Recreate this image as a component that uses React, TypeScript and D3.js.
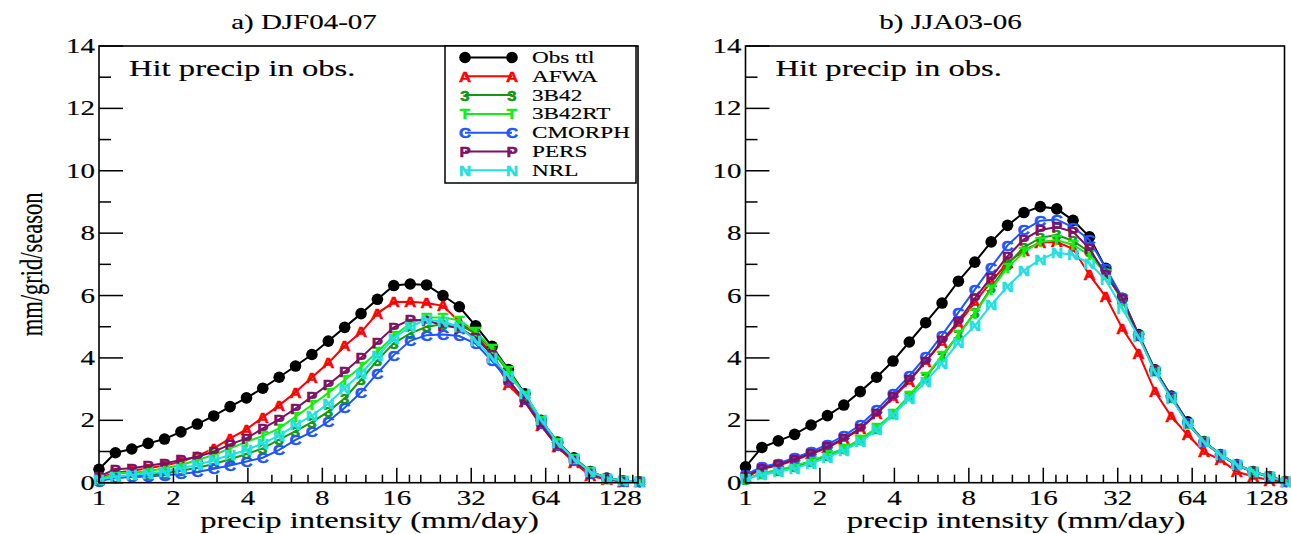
import React from "react";
import * as d3 from "d3";

// ---- data ----
const BINS = [1, 1.165, 1.357, 1.58, 1.841, 2.144, 2.498, 2.91, 3.389, 3.948, 4.595, 5.352, 6.233, 7.26, 8.456, 9.849, 11.47, 13.36, 15.56, 18.13, 21.11, 24.59, 28.64, 33.36, 38.85, 45.25, 52.71, 61.39, 71.51, 83.29, 97.01, 112.99, 131.6, 153.3];

const X_MAJOR = [1, 2, 4, 8, 16, 32, 64, 128];
const X_MINOR = [3, 5, 6, 7, 9, 10, 12, 14, 18, 20, 24, 28, 36, 40, 48, 56, 72, 80, 96, 112, 144];
const Y_MAJOR = [0, 2, 4, 6, 8, 10, 12, 14];
const Y_MINOR = [1, 3, 5, 7, 9, 11, 13];

const SERIES_NAMES = ["Obs ttl", "AFWA", "3B42", "3B42RT", "CMORPH", "PERS", "NRL"];
const SERIES_MARKERS = ["●", "A", "3", "T", "C", "P", "N"];
const SERIES_COLORS = ["#000000", "#ff0000", "#119911", "#11ee11", "#1f55ff", "#800f66", "#22e0e0"];

// a) DJF04-07
const DJF_OBS = [0.43, 0.96, 1.08, 1.26, 1.40, 1.63, 1.88, 2.14, 2.44, 2.72, 3.03, 3.38, 3.74, 4.11, 4.54, 4.98, 5.42, 5.88, 6.32, 6.37, 6.34, 6.0, 5.64, 5.03, 4.37, 3.63, 2.85, 2.0, 1.3, 0.8, 0.36, 0.15, 0.06, 0.03];
const DJF_AFWA = [0.15, 0.32, 0.38, 0.46, 0.55, 0.67, 0.85, 1.10, 1.42, 1.71, 2.10, 2.48, 2.90, 3.38, 3.84, 4.38, 4.83, 5.43, 5.79, 5.80, 5.76, 5.67, 5.16, 4.75, 4.1, 3.13, 2.6, 1.82, 1.15, 0.65, 0.22, 0.1, 0.04, 0.02];
const DJF_3B42 = [0.08, 0.17, 0.2, 0.25, 0.3, 0.38, 0.48, 0.6, 0.75, 0.92, 1.1, 1.38, 1.65, 1.94, 2.28, 2.71, 3.3, 3.93, 4.47, 4.79, 5.0, 5.08, 5.05, 4.8, 4.25, 3.55, 2.8, 2.0, 1.3, 0.78, 0.35, 0.14, 0.06, 0.03];
const DJF_3B42RT = [0.1, 0.30, 0.32, 0.37, 0.46, 0.57, 0.73, 0.89, 1.10, 1.31, 1.50, 1.74, 2.12, 2.49, 2.88, 3.29, 3.72, 4.20, 4.70, 5.11, 5.3, 5.3, 5.2, 4.85, 4.3, 3.6, 2.8, 2.0, 1.3, 0.78, 0.35, 0.14, 0.06, 0.03];
const DJF_CMORPH = [0.05, 0.15, 0.18, 0.2, 0.24, 0.28, 0.34, 0.45, 0.55, 0.68, 0.8, 1.05, 1.37, 1.63, 1.96, 2.40, 2.90, 3.51, 4.09, 4.55, 4.73, 4.75, 4.7, 4.45, 3.9, 3.27, 2.65, 1.9, 1.2, 0.72, 0.3, 0.12, 0.05, 0.02];
const DJF_PERS = [0.2, 0.43, 0.46, 0.54, 0.62, 0.73, 0.83, 0.99, 1.23, 1.42, 1.74, 2.03, 2.38, 2.76, 3.15, 3.56, 4.01, 4.50, 4.98, 5.22, 5.2, 5.05, 4.95, 4.65, 4.1, 3.3, 2.6, 1.85, 1.15, 0.7, 0.3, 0.12, 0.05, 0.02];
const DJF_NRL = [0.1, 0.19, 0.25, 0.30, 0.35, 0.46, 0.57, 0.73, 0.89, 1.05, 1.26, 1.51, 1.85, 2.15, 2.54, 3.03, 3.51, 4.06, 4.63, 5.0, 5.24, 5.15, 5.0, 4.55, 4.0, 3.42, 2.87, 2.01, 1.28, 0.76, 0.35, 0.14, 0.06, 0.03];

// b) JJA03-06
const JJA_OBS = [0.51, 1.13, 1.34, 1.55, 1.85, 2.15, 2.49, 2.92, 3.38, 3.90, 4.51, 5.13, 5.76, 6.46, 7.07, 7.72, 8.25, 8.66, 8.85, 8.78, 8.41, 7.88, 6.87, 5.91, 4.75, 3.62, 2.78, 1.95, 1.32, 0.9, 0.58, 0.36, 0.2, 0.04];
const JJA_AFWA = [0.15, 0.45, 0.55, 0.72, 0.92, 1.12, 1.40, 1.72, 2.2, 2.72, 3.25, 3.88, 4.5, 5.1, 5.78, 6.45, 7.05, 7.45, 7.7, 7.72, 7.5, 6.66, 5.96, 4.95, 4.15, 2.92, 2.12, 1.53, 0.99, 0.73, 0.35, 0.2, 0.08, 0.03];
const JJA_3B42 = [0.1, 0.3, 0.4, 0.52, 0.68, 0.87, 1.08, 1.37, 1.74, 2.2, 2.78, 3.38, 4.05, 4.75, 5.45, 6.25, 7.0, 7.55, 7.85, 7.95, 7.75, 7.4, 6.75, 5.85, 4.7, 3.58, 2.74, 1.9, 1.31, 0.89, 0.57, 0.35, 0.19, 0.04];
const JJA_3B42RT = [0.12, 0.3, 0.41, 0.54, 0.70, 0.89, 1.10, 1.39, 1.76, 2.22, 2.8, 3.4, 4.08, 4.75, 5.43, 6.2, 6.9, 7.4, 7.72, 7.78, 7.62, 7.3, 6.7, 5.85, 4.7, 3.6, 2.75, 1.9, 1.31, 0.89, 0.57, 0.35, 0.19, 0.04];
const JJA_CMORPH = [0.25, 0.51, 0.62, 0.80, 0.99, 1.23, 1.50, 1.85, 2.33, 2.87, 3.42, 4.04, 4.73, 5.46, 6.19, 6.91, 7.61, 8.10, 8.40, 8.44, 8.19, 7.78, 6.87, 5.95, 4.73, 3.6, 2.76, 1.92, 1.32, 0.89, 0.57, 0.35, 0.19, 0.04];
const JJA_PERS = [0.2, 0.46, 0.57, 0.75, 0.94, 1.15, 1.42, 1.74, 2.22, 2.76, 3.29, 3.88, 4.55, 5.18, 5.91, 6.58, 7.26, 7.8, 8.1, 8.2, 8.04, 7.51, 6.66, 5.91, 4.72, 3.58, 2.74, 1.9, 1.3, 0.88, 0.56, 0.34, 0.18, 0.04];
const JJA_NRL = [0.12, 0.25, 0.35, 0.46, 0.62, 0.81, 1.03, 1.31, 1.69, 2.17, 2.7, 3.24, 3.83, 4.5, 5.03, 5.70, 6.29, 6.8, 7.16, 7.38, 7.3, 7.03, 6.5, 5.59, 4.68, 3.56, 2.70, 1.90, 1.31, 0.89, 0.57, 0.35, 0.19, 0.03];

const PANELS = [
  { title: "a) DJF04-07", series: [DJF_OBS, DJF_AFWA, DJF_3B42, DJF_3B42RT, DJF_CMORPH, DJF_PERS, DJF_NRL], legend: true, ylabel: true },
  { title: "b) JJA03-06", series: [JJA_OBS, JJA_AFWA, JJA_3B42, JJA_3B42RT, JJA_CMORPH, JJA_PERS, JJA_NRL], legend: false, ylabel: false },
];

// ---- layout ----
const W = 1291, H = 534;
const SX = 1.45; // horizontal stretch of text
const SERIF = "'Liberation Serif', 'DejaVu Serif', serif";
const SANS = "'Liberation Sans', Arial, sans-serif";
const PANEL_LEFT = [99, 745.5];
const PLOT_W = 539;
const Y_TOP = 46, Y_BOT = 482.7;
const X_MAX = Math.pow(2, 7.24);

function SText({ x, y, size, anchor = "middle", children, rotate = 0, sx = SX, family = SERIF, weight = "normal", fill = "#000", baseline, sw = 0.15 }: any) {
  return (
    <text
      transform={`translate(${x},${y}) scale(${sx},1)${rotate ? ` rotate(${rotate})` : ""}`}
      fontFamily={family}
      fontSize={size}
      fontWeight={weight}
      textAnchor={anchor}
      fill={fill}
      stroke={fill}
      strokeWidth={sw}
      dominantBaseline={baseline}
    >
      {children}
    </text>
  );
}

function Marker({ x, y, k }: { x: number; y: number; k: number }) {
  const color = SERIES_COLORS[k];
  if (k === 0) return <circle cx={x} cy={y} r={5.8} fill={color} />;
  return (
    <SText x={x} y={y + 5.4} size={15} sx={1.12} family={SANS} weight="bold" fill={color} sw={0.5}>
      {SERIES_MARKERS[k]}
    </SText>
  );
}

function Panel({ p, left }: any) {
  const x = d3.scaleLog().base(2).domain([1, X_MAX]).range([left, left + PLOT_W]);
  const y = d3.scaleLinear().domain([0, 14]).range([Y_BOT, Y_TOP]);
  const line = d3.line<number>().x((_, i) => x(BINS[i])).y((v) => y(v));
  const right = left + PLOT_W;
  return (
    <g>
      {/* series */}
      {p.series.map((vals: number[], k: number) => (
        <g key={k}>
          <path d={line(vals) || ""} fill="none" stroke={SERIES_COLORS[k]} strokeWidth={2} />
          {vals.map((v, i) => (
            <Marker key={i} x={x(BINS[i])} y={y(v)} k={k} />
          ))}
        </g>
      ))}
      {/* frame */}
      <rect x={left} y={Y_TOP} width={PLOT_W} height={Y_BOT - Y_TOP} fill="none" stroke="#000" strokeWidth={1.6} />
      {/* y ticks */}
      {Y_MAJOR.map((v) => (
        <g key={"ym" + v}>
          <line x1={left} x2={left + 24} y1={y(v)} y2={y(v)} stroke="#000" strokeWidth={1.5} />
          <SText x={left - 4} y={y(v) + 7} size={20} anchor="end">{v}</SText>
        </g>
      ))}
      {Y_MINOR.map((v) => (
        <line key={"yn" + v} x1={left} x2={left + 12} y1={y(v)} y2={y(v)} stroke="#000" strokeWidth={1.5} />
      ))}
      {/* x ticks */}
      {X_MAJOR.map((v) => (
        <g key={"xm" + v}>
          <line x1={x(v)} x2={x(v)} y1={Y_BOT} y2={Y_BOT - 15} stroke="#000" strokeWidth={1.5} />
          <SText x={x(v)} y={Y_BOT + 22} size={20}>{v}</SText>
        </g>
      ))}
      {X_MINOR.map((v) => (
        <line key={"xn" + v} x1={x(v)} x2={x(v)} y1={Y_BOT} y2={Y_BOT - 8} stroke="#000" strokeWidth={1.5} />
      ))}
      {/* labels */}
      <SText x={left + 205} y={29} size={20}>{p.title}</SText>
      <SText x={left + 30} y={76} size={22.5} anchor="start">Hit precip in obs.</SText>
      <SText x={(left + right) / 2 + 1} y={528} size={22.5}>precip intensity (mm/day)</SText>
      {p.ylabel && (
        <SText x={31} y={(Y_TOP + Y_BOT) / 2} size={22.5} rotate={-90} baseline="central">mm/grid/season</SText>
      )}
      {p.legend && (
        <g>
          <rect x={445} y={Y_TOP} width={191} height={137} fill="#fff" stroke="#000" strokeWidth={1.5} />
          {SERIES_NAMES.map((name, k) => {
            const ly = 57.5 + k * 18.8;
            return (
              <g key={name}>
                <line x1={465} x2={512} y1={ly} y2={ly} stroke={SERIES_COLORS[k]} strokeWidth={2} />
                <Marker x={465} y={ly} k={k} />
                <Marker x={512} y={ly} k={k} />
                <SText x={532} y={ly + 5.5} size={16} anchor="start">{name}</SText>
              </g>
            );
          })}
        </g>
      )}
    </g>
  );
}

export default function App() {
  return (
    <svg width={W} height={H} style={{ position: "absolute", left: 0, top: 0, background: "#fff" }}>
      <rect x={0} y={0} width={W} height={H} fill="#fff" />
      {PANELS.map((p, i) => (
        <Panel key={i} p={p} left={PANEL_LEFT[i]} />
      ))}
    </svg>
  );
}
